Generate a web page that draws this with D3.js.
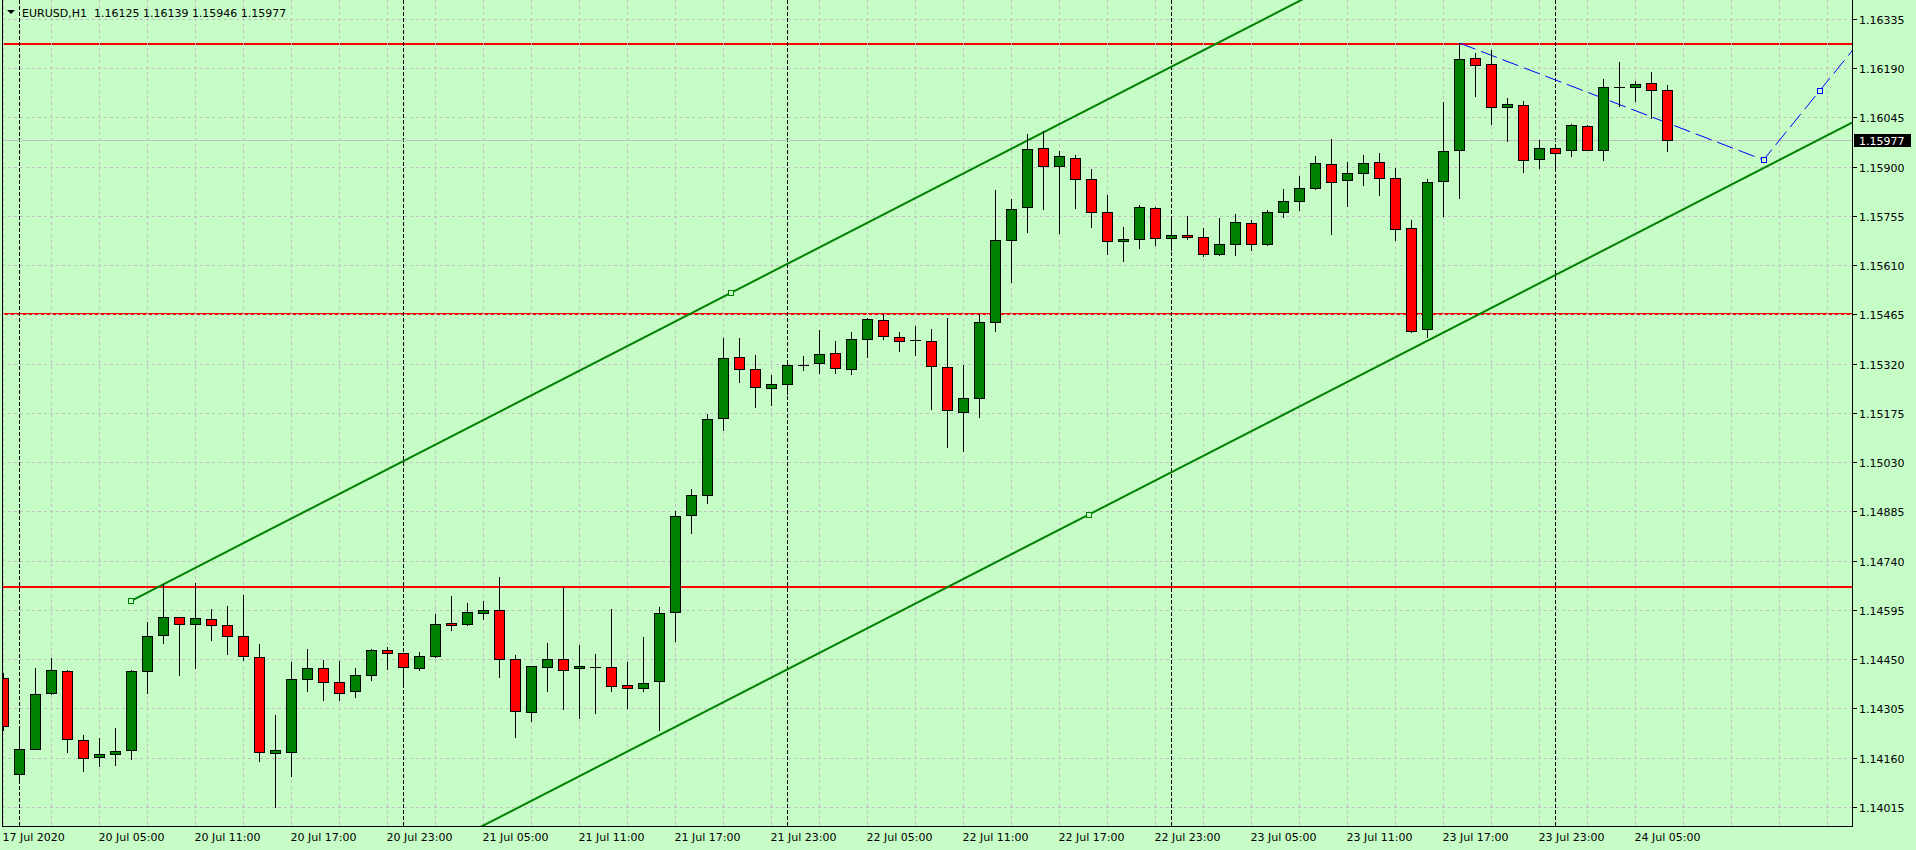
<!DOCTYPE html>
<html><head><meta charset="utf-8">
<script src="https://cdn.jsdelivr.net/npm/d3@7"></script>
<style>
html,body{margin:0;padding:0;background:#c6fdc6;overflow:hidden}
svg{display:block}
text{font-family:"DejaVu Sans",sans-serif;font-size:11px;fill:#000}
</style></head><body>
<svg id="chart" width="1916" height="850"></svg>
<script>
// ---------- data ----------
const symbolTitle = "EURUSD,H1";
const lastQuote = ["1.16125", "1.16139", "1.15946", "1.15977"];

const opens = [
1.14393,1.14112,1.14186,1.14350,1.14416,1.14212,1.14162,1.14171,1.14183,1.14416,
1.14520,1.14573,1.14553,1.14567,1.14550,1.14517,1.14455,1.14174,1.14177,1.14390,
1.14425,1.14381,1.14357,1.14402,1.14476,1.14467,1.14425,1.14458,1.14556,1.14553,
1.14585,1.14594,1.14449,1.14293,1.14426,1.14450,1.14423,1.14426,1.14426,1.14373,
1.14364,1.14385,1.14589,1.14873,1.14932,1.15160,1.15338,1.15305,1.15249,1.15261,
1.15317,1.15323,1.15350,1.15304,1.15393,1.15449,1.15399,1.15389,1.15387,1.15310,
1.15178,1.15219,1.15443,1.15684,1.15781,1.15955,1.15902,1.15926,1.15864,1.15767,
1.15681,1.15687,1.15778,1.15690,1.15698,1.15693,1.15643,1.15672,1.15734,1.15672,
1.15767,1.15799,1.15837,1.15908,1.15861,1.15881,1.15914,1.15867,1.15720,1.15423,
1.15858,1.15950,1.16221,1.16203,1.16076,1.16082,1.15923,1.15956,1.15950,1.16020,
1.15950,1.16135,1.16135,1.16147,1.16125];
const highs = [
1.14410,1.14253,1.14425,1.14452,1.14418,1.14225,1.14218,1.14246,1.14418,1.14559,
1.14672,1.14575,1.14674,1.14597,1.14607,1.14639,1.14493,1.14284,1.14441,1.14480,
1.14447,1.14444,1.14425,1.14479,1.14485,1.14469,1.14470,1.14583,1.14636,1.14615,
1.14621,1.14692,1.14461,1.14431,1.14498,1.14662,1.14492,1.14466,1.14598,1.14442,
1.14516,1.14604,1.14885,1.14950,1.15172,1.15394,1.15394,1.15344,1.15287,1.15319,
1.15341,1.15418,1.15385,1.15414,1.15455,1.15467,1.15414,1.15432,1.15423,1.15455,
1.15317,1.15466,1.15831,1.15805,1.15996,1.16005,1.15946,1.15933,1.15893,1.15817,
1.15723,1.15787,1.15780,1.15749,1.15753,1.15719,1.15749,1.15761,1.15743,1.15773,
1.15834,1.15871,1.15931,1.15980,1.15914,1.15934,1.15940,1.15896,1.15744,1.15864,
1.16089,1.16265,1.16235,1.16242,1.16103,1.16094,1.15979,1.15958,1.16025,1.16023,
1.16159,1.16207,1.16153,1.16179,1.16139];
const lows = [
1.14240,1.14097,1.14184,1.14346,1.14176,1.14120,1.14134,1.14138,1.14155,1.14350,
1.14496,1.14404,1.14424,1.14507,1.14466,1.14446,1.14149,1.14013,1.14105,1.14357,
1.14328,1.14328,1.14337,1.14387,1.14421,1.14380,1.14419,1.14455,1.14535,1.14550,
1.14567,1.14398,1.14220,1.14268,1.14357,1.14303,1.14276,1.14292,1.14357,1.14307,
1.14355,1.14242,1.14504,1.14822,1.14909,1.15124,1.15267,1.15193,1.15199,1.15231,
1.15302,1.15293,1.15293,1.15289,1.15339,1.15392,1.15356,1.15344,1.15186,1.15074,
1.15062,1.15162,1.15415,1.15560,1.15707,1.15775,1.15704,1.15778,1.15721,1.15642,
1.15621,1.15660,1.15669,1.15654,1.15687,1.15636,1.15639,1.15639,1.15654,1.15670,
1.15751,1.15772,1.15835,1.15701,1.15783,1.15845,1.15816,1.15683,1.15413,1.15397,
1.15754,1.15807,1.16108,1.16025,1.15975,1.15884,1.15897,1.15900,1.15931,1.15948,
1.15920,1.16079,1.16094,1.16044,1.15946];
const closes = [
1.14252,1.14186,1.14348,1.14419,1.14215,1.14159,1.14171,1.14180,1.14416,1.14517,
1.14573,1.14553,1.14570,1.14550,1.14517,1.14458,1.14177,1.14183,1.14390,1.14425,
1.14381,1.14351,1.14402,1.14476,1.14467,1.14428,1.14458,1.14553,1.14550,1.14588,
1.14594,1.14449,1.14298,1.14429,1.14450,1.14417,1.14429,1.14426,1.14370,1.14364,
1.14379,1.14586,1.14870,1.14932,1.15157,1.15335,1.15305,1.15252,1.15261,1.15317,
1.15317,1.15347,1.15308,1.15393,1.15452,1.15402,1.15387,1.15389,1.15312,1.15184,
1.15219,1.15443,1.15684,1.15776,1.15952,1.15902,1.15932,1.15864,1.15767,1.15681,
1.15687,1.15781,1.15690,1.15698,1.15693,1.15643,1.15672,1.15737,1.15672,1.15767,
1.15799,1.15837,1.15911,1.15855,1.15881,1.15911,1.15867,1.15717,1.15416,1.15855,
1.15947,1.16218,1.16200,1.16076,1.16085,1.15920,1.15956,1.15941,1.16023,1.15950,
1.16135,1.16135,1.16144,1.16126,1.15977];

const priceTicks = ["1.14015","1.14160","1.14305","1.14450","1.14595","1.14740","1.14885",
  "1.15030","1.15175","1.15320","1.15465","1.15610","1.15755","1.15900","1.16045","1.16190","1.16335"];
const timeLabels = ["17 Jul 2020","20 Jul 05:00","20 Jul 11:00","20 Jul 17:00","20 Jul 23:00",
  "21 Jul 05:00","21 Jul 11:00","21 Jul 17:00","21 Jul 23:00","22 Jul 05:00","22 Jul 11:00",
  "22 Jul 17:00","22 Jul 23:00","23 Jul 05:00","23 Jul 11:00","23 Jul 17:00","23 Jul 23:00","24 Jul 05:00"];
const timeLabelBars = [0,6,12,18,24,30,36,42,48,54,60,66,72,78,84,90,96,102];
const daySeparatorBars = [1,25,49,73,97];
const levelPrices = [1.16263, 1.15467, 1.14663];
const bidPrice = 1.15977;
const channelBars = [7.98, 45.48, 67.84];
const channelPrices = [1.14623, 1.15530, 1.14877];
const projBars = [91, 110, 113.5];
const projPrices = [1.16265, 1.15921, 1.16124];

// ---------- layout ----------
const W = 1916, H = 850;
const plotL = 2, plotR = 1852, plotT = 0, plotB = 826;
const svg = d3.select("#chart");

const x = d3.scaleLinear().domain([0, 115]).range([3.5, 3.5 + 16 * 115]);
const y = d3.scaleLinear().domain([1.14015, 1.16335]).range([807.3, 19.3]);
const py = v => Math.floor(y(v)) + 0.5;

svg.append("rect").attr("width", W).attr("height", H).attr("fill", "#c6fdc6");

svg.append("defs").append("clipPath").attr("id", "clip")
  .append("rect").attr("x", plotL).attr("y", plotT).attr("width", plotR - plotL).attr("height", plotB - plotT);

const plot = svg.append("g").attr("clip-path", "url(#clip)");

// horizontal levels (drawn under the grid)
plot.append("g").selectAll("line").data(levelPrices).join("line")
  .attr("x1", plotL).attr("x2", plotR)
  .attr("y1", d => Math.round(y(d))).attr("y2", d => Math.round(y(d)))
  .attr("stroke", "#ff0000").attr("stroke-width", 2);

// grid
const vGrid = d3.range(0, 116, 3);
plot.append("g").selectAll("line").data(vGrid).join("line")
  .attr("x1", d => x(d)).attr("x2", d => x(d))
  .attr("y1", plotT).attr("y2", plotB)
  .attr("stroke", "#c0c0c0").attr("stroke-dasharray", "3,3");
plot.append("g").selectAll("line").data(priceTicks).join("line")
  .attr("x1", plotL).attr("x2", plotR)
  .attr("y1", d => py(+d)).attr("y2", d => py(+d))
  .attr("stroke", "#c0c0c0").attr("stroke-dasharray", "3,3");

// period separators
plot.append("g").selectAll("line").data(daySeparatorBars).join("line")
  .attr("x1", d => x(d)).attr("x2", d => x(d))
  .attr("y1", plotT).attr("y2", plotB)
  .attr("stroke", "#000").attr("stroke-dasharray", "4,2");

// bid line
plot.append("line").attr("x1", plotL).attr("x2", plotR)
  .attr("y1", py(bidPrice)).attr("y2", py(bidPrice))
  .attr("stroke", "#c0c0c0");

// equidistant channel
const slope = (channelPrices[1] - channelPrices[0]) / (channelBars[1] - channelBars[0]);
const endBar = 130;
const chanUpper = [[channelBars[0], channelPrices[0]], [endBar, channelPrices[0] + slope * (endBar - channelBars[0])]];
const lowerStart = channelPrices[2] - slope * (channelBars[2] - channelBars[0]);
const chanLower = [[channelBars[0], lowerStart], [endBar, lowerStart + slope * (endBar - channelBars[0])]];
const lineGen = d3.line().x(d => x(d[0])).y(d => y(d[1]));
plot.append("path").attr("d", lineGen(chanUpper)).attr("fill", "none")
  .attr("stroke", "#008000").attr("stroke-width", 2);
plot.append("path").attr("d", lineGen(chanLower)).attr("fill", "none")
  .attr("stroke", "#008000").attr("stroke-width", 2);

// projection (blue dashed)
const pr = projBars.map((b, k) => [b, projPrices[k]]);
const s2 = (pr[2][1] - pr[1][1]) / (pr[2][0] - pr[1][0]);
const projLine = pr.concat([[120, pr[2][1] + s2 * (120 - pr[2][0])]]);
plot.append("path").attr("d", lineGen(projLine)).attr("fill", "none")
  .attr("stroke", "#0000ff").attr("stroke-width", 1).attr("stroke-dasharray", "17,6");

// candles
const data = opens.map((o, i) => ({ i, o, h: highs[i], l: lows[i], c: closes[i] }));
const cg = plot.append("g").selectAll("g").data(data).join("g");
cg.append("line")
  .attr("x1", d => x(d.i)).attr("x2", d => x(d.i))
  .attr("y1", d => py(d.h) - 0.5).attr("y2", d => py(d.l) + 0.5)
  .attr("stroke", "#000");
cg.filter(d => d.o !== d.c).append("rect")
  .attr("x", d => x(d.i) - 5).attr("width", 10)
  .attr("y", d => py(Math.max(d.o, d.c)))
  .attr("height", d => Math.max(1, py(Math.min(d.o, d.c)) - py(Math.max(d.o, d.c))))
  .attr("fill", d => d.c > d.o ? "#008000" : "#ff0000")
  .attr("stroke", "#000");
cg.filter(d => d.o === d.c).append("line")
  .attr("x1", d => x(d.i) - 5.5).attr("x2", d => x(d.i) + 5.5)
  .attr("y1", d => py(d.o)).attr("y2", d => py(d.o))
  .attr("stroke", "#000").attr("stroke-width", 1);

// anchor squares
const anchors = plot.append("g");
channelBars.forEach((b, k) => {
  anchors.append("rect").attr("x", Math.round(x(b)) - 2.5).attr("y", Math.round(y(channelPrices[k])) - 2.5)
    .attr("width", 5).attr("height", 5).attr("fill", "#c6fdc6").attr("stroke", "#008000");
});
[1, 2].forEach(k => {
  anchors.append("rect").attr("x", Math.round(x(projBars[k])) - 2.5).attr("y", Math.round(y(projPrices[k])) - 2.5)
    .attr("width", 5).attr("height", 5).attr("fill", "#c6fdc6").attr("stroke", "#0000ff");
});

// frame
svg.append("line").attr("x1", plotL + 0.5).attr("x2", plotL + 0.5).attr("y1", 0).attr("y2", plotB).attr("stroke", "#000");
svg.append("line").attr("x1", plotR + 0.5).attr("x2", plotR + 0.5).attr("y1", 0).attr("y2", plotB + 1).attr("stroke", "#000");
svg.append("line").attr("x1", plotL).attr("x2", plotR + 1).attr("y1", plotB + 0.5).attr("y2", plotB + 0.5).attr("stroke", "#000");

// price axis
const pa = svg.append("g");
pa.selectAll("line").data(priceTicks).join("line")
  .attr("x1", plotR + 1).attr("x2", plotR + 5)
  .attr("y1", d => py(+d)).attr("y2", d => py(+d)).attr("stroke", "#000");
pa.selectAll("text").data(priceTicks).join("text")
  .attr("x", 1859).attr("y", d => py(+d) + 4).text(d => d);

// bid label
const by = py(bidPrice);
svg.append("rect").attr("x", 1854).attr("y", by - 6.5).attr("width", 57).attr("height", 13).attr("fill", "#000");
svg.append("text").attr("x", 1859).attr("y", by + 4).style("fill", "#fff").text(lastQuote[3]);

// time axis
const ta = svg.append("g");
ta.selectAll("text").data(timeLabels).join("text")
  .attr("x", (d, k) => x(timeLabelBars[k]) - 1).attr("y", 841).text(d => d);

// header
svg.append("path").attr("d", "M7,10 L15,10 L11,14 Z").attr("fill", "#000");
svg.append("text").attr("x", 22).attr("y", 17).attr("xml:space", "preserve")
  .text(symbolTitle + "  " + lastQuote.join(" "));
</script>
</body></html>
